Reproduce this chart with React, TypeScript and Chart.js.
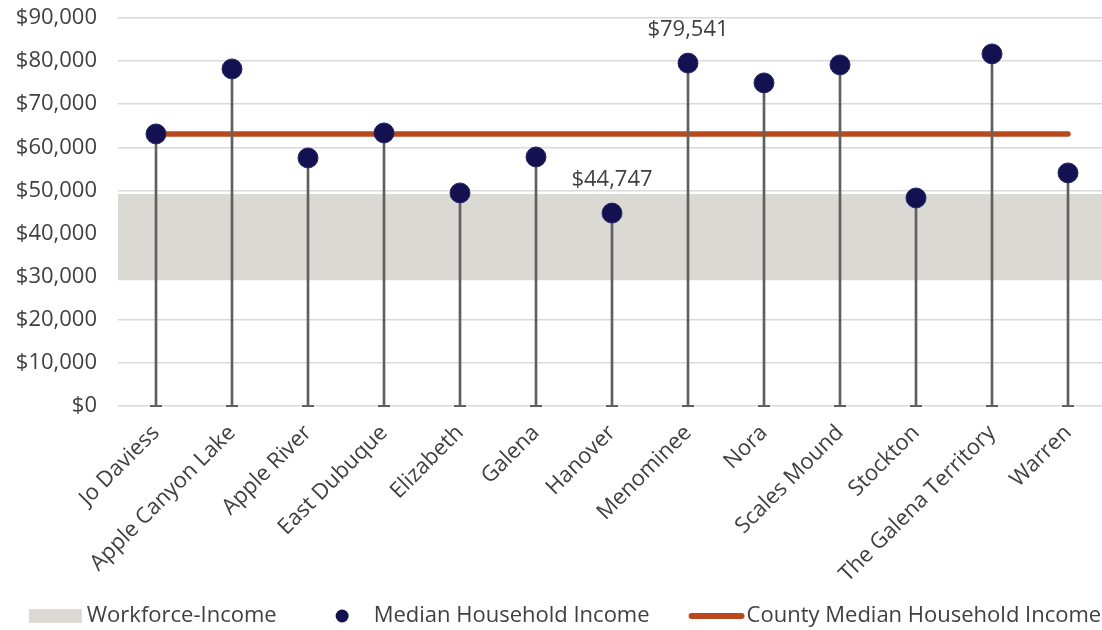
import React, { useEffect, useRef } from 'react';
import { Chart, registerables } from 'chart.js';

Chart.register(...registerables);

const categories = [
  'Jo Daviess',
  'Apple Canyon Lake',
  'Apple River',
  'East Dubuque',
  'Elizabeth',
  'Galena',
  'Hanover',
  'Menominee',
  'Nora',
  'Scales Mound',
  'Stockton',
  'The Galena Territory',
  'Warren',
];

const medianIncome = [63110, 78190, 57540, 63340, 49420, 57770, 44747, 79541, 74940, 79120, 48260, 81670, 54060];
const countyMedian = [63110, 63110, 63110, 63110, 63110, 63110, 63110, 63110, 63110, 63110, 63110, 63110, 63110];
const workforceLow = [29230, 29230, 29230, 29230, 29230, 29230, 29230, 29230, 29230, 29230, 29230, 29230, 29230];
const workforceHigh = [49120, 49120, 49120, 49120, 49120, 49120, 49120, 49120, 49120, 49120, 49120, 49120, 49120];
const stemBase = [0, 0, 0, 0, 0, 0, 0, 0, 0, 0, 0, 0, 0];
const labeledCategories = ['Hanover', 'Menominee'];
const yTickValues = [0, 10000, 20000, 30000, 40000, 50000, 60000, 70000, 80000, 90000];

const FONT = '"Open Sans", "Noto Sans", sans-serif';
const TEXT = '#404040';
const NAVY = '#13114F';
const ORANGE = '#B9481C';
const BAND = '#DBD9D3';
const STEM = '#606060';

const fmt = (v: number) => '$' + Math.round(v).toLocaleString('en-US');

const dataLabelPlugin = {
  id: 'dataLabels',
  afterDatasetsDraw(chart: any) {
    const idx = chart.data.datasets.findIndex((d: any) => d.id === 'median');
    if (idx < 0) return;
    const meta = chart.getDatasetMeta(idx);
    const ctx = chart.ctx;
    ctx.save();
    ctx.font = `22px ${FONT}`;
    ctx.fillStyle = TEXT;
    ctx.textAlign = 'center';
    ctx.textBaseline = 'middle';
    meta.data.forEach((pt: any, i: number) => {
      if (!labeledCategories.includes(categories[i])) return;
      ctx.fillText(fmt(medianIncome[i]), pt.x, pt.y - 33);
    });
    ctx.restore();
  },
};

const legendPlugin = {
  id: 'customLegend',
  afterDraw(chart: any) {
    const ctx = chart.ctx;
    const items = chart.data.datasets
      .filter((d: any) => d.legendKind)
      .sort((a: any, b: any) => a.legendOrder - b.legendOrder);
    ctx.save();
    ctx.font = `22px ${FONT}`;
    const swatchW = 53;
    const gapText = 5;
    const gapItem = 39;
    const widths = items.map((d: any) => swatchW + gapText + ctx.measureText(d.label).width);
    const total = widths.reduce((a: number, b: number) => a + b, 0) + gapItem * (items.length - 1);
    let x = 565 - total / 2;
    const y = 616;
    items.forEach((d: any, i: number) => {
      if (d.legendKind === 'box') {
        ctx.fillStyle = d.backgroundColor;
        ctx.fillRect(x, y - 7, swatchW, 14);
      } else if (d.legendKind === 'dot') {
        ctx.fillStyle = d.backgroundColor;
        ctx.beginPath();
        ctx.arc(x + swatchW / 2, y, 6.5, 0, Math.PI * 2);
        ctx.fill();
      } else if (d.legendKind === 'line') {
        ctx.strokeStyle = d.borderColor;
        ctx.lineWidth = 6;
        ctx.lineCap = 'round';
        ctx.beginPath();
        ctx.moveTo(x + 3, y);
        ctx.lineTo(x + swatchW, y);
        ctx.stroke();
      }
      ctx.fillStyle = TEXT;
      ctx.textAlign = 'left';
      ctx.textBaseline = 'middle';
      ctx.fillText(d.label, x + swatchW + gapText, y);
      x += widths[i] + gapItem;
    });
    ctx.restore();
  },
};

export default function App() {
  const canvasRef = useRef<HTMLCanvasElement | null>(null);

  useEffect(() => {
    document.body.style.margin = '0';
    const canvas = canvasRef.current;
    if (!canvas) return;
    const chart = new Chart(canvas, {
      data: {
        labels: categories,
        datasets: [
          {
            id: 'median',
            type: 'line',
            label: 'Median Household Income',
            legendKind: 'dot',
            legendOrder: 1,
            data: medianIncome,
            showLine: false,
            pointRadius: 10,
            pointHoverRadius: 10,
            pointBackgroundColor: NAVY,
            backgroundColor: NAVY,
            pointBorderColor: '#2a2966',
            pointBorderWidth: 1,
            clip: false,
            order: 0,
          } as any,
          {
            type: 'line',
            label: 'caps',
            data: stemBase,
            showLine: false,
            pointStyle: 'line',
            pointRadius: 6,
            pointHoverRadius: 6,
            pointBorderColor: STEM,
            pointBorderWidth: 2,
            clip: false,
            order: 1,
          } as any,
          {
            type: 'bar',
            label: 'stems',
            data: medianIncome,
            backgroundColor: STEM,
            barThickness: 2,
            grouped: false,
            order: 2,
          } as any,
          {
            type: 'line',
            label: 'County Median Household Income',
            legendKind: 'line',
            legendOrder: 2,
            data: countyMedian,
            borderColor: ORANGE,
            borderWidth: 5.5,
            borderCapStyle: 'round',
            pointRadius: 0,
            pointHoverRadius: 0,
            fill: false,
            clip: false,
            order: 3,
          } as any,
          {
            type: 'bar',
            label: 'Workforce-Income',
            legendKind: 'box',
            legendOrder: 0,
            data: categories.map((_, i) => [workforceLow[i], workforceHigh[i]]),
            backgroundColor: BAND,
            barPercentage: 1,
            categoryPercentage: 1,
            grouped: false,
            borderWidth: 0,
            order: 4,
          } as any,
        ],
      },
      options: {
        animation: false,
        responsive: true,
        maintainAspectRatio: false,
        layout: { padding: { top: 18, right: 0, bottom: 40, left: 0 } },
        plugins: {
          legend: { display: false },
          tooltip: { enabled: false },
          title: { display: false },
        },
        scales: {
          x: {
            type: 'category',
            offset: true,
            grid: { display: false },
            border: { display: false },
            ticks: {
              autoSkip: false,
              minRotation: 45,
              maxRotation: 45,
              padding: 6,
              color: TEXT,
              font: { family: FONT, size: 22 },
            },
            afterFit(scale: any) {
              scale.height = 184;
              scale.paddingTop = 0;
              scale.paddingBottom = 0;
            },
          },
          y: {
            min: 0,
            max: 90000,
            grid: { color: '#D9D9D9', lineWidth: 1.5, drawTicks: false },
            border: { display: false },
            ticks: {
              padding: 21,
              color: TEXT,
              font: { family: FONT, size: 22 },
              callback: (v: any) => fmt(Number(v)),
            },
            afterBuildTicks(scale: any) {
              scale.ticks = yTickValues.map((v) => ({ value: v }));
            },
            afterFit(scale: any) {
              scale.width = 118;
              scale.paddingTop = 0;
              scale.paddingBottom = 0;
            },
          },
        },
      } as any,
      plugins: [dataLabelPlugin, legendPlugin],
    });
    return () => chart.destroy();
  }, []);

  return (
    <div style={{ width: 1102, height: 630, overflow: 'hidden', position: 'relative', background: '#fff' }}>
      <div style={{ width: 1117, height: 630, position: 'relative' }}>
        <canvas ref={canvasRef} />
      </div>
    </div>
  );
}
